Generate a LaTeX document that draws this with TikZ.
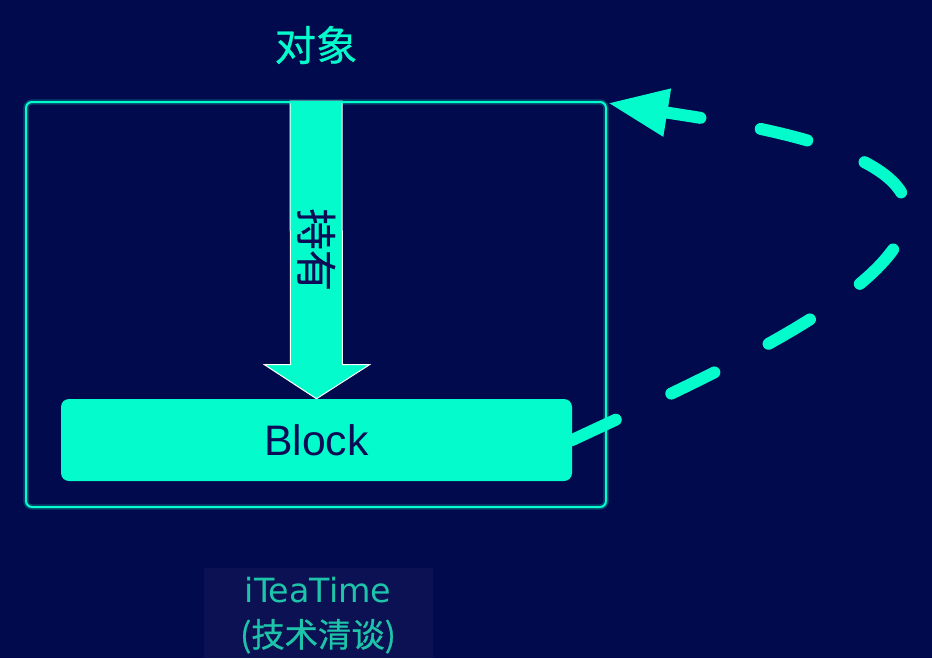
\documentclass[tikz,border=0pt]{standalone}
\usepackage{fontspec}
\setmainfont{Liberation Sans}
\newfontfamily\cjk[FakeBold=0.6]{Noto Sans CJK SC}
\newfontfamily\wmfont{DejaVu Sans}
\usepackage{tikz}
\usetikzlibrary{positioning,calc,arrows.meta}
\definecolor{navy}{HTML}{020A4E}
\definecolor{mint}{HTML}{04FBCC}
\definecolor{ink}{HTML}{0B0C55}
\definecolor{wmfill}{HTML}{0B1152}
\definecolor{wmtext}{HTML}{1EC4AA}
\pgfdeclarelayer{bg}
\pgfdeclarelayer{back}
\pgfsetlayers{bg,back,main}
\tikzset{
	objbox/.style = {draw=mint, line width=1.5pt, rounded corners=4.5pt, minimum width=435pt, minimum height=303.75pt, inner sep=0, preaction={draw=mint, line width=4pt, opacity=0.25}},
	blockbox/.style = {fill=mint, rounded corners=6pt, minimum width=383.25pt, minimum height=61.5pt, inner sep=0, text=ink, font=\fontsize{32pt}{36pt}\selectfont},
	objlabel/.style = {text=mint, inner sep=0, font=\cjk\fontsize{31pt}{34pt}\selectfont},
	holdarrow/.style = {fill=mint, draw=white, line width=0.75pt, line join=miter},
	holdlabel/.style = {text=ink, inner sep=0, rotate=-90, font=\cjk\fontsize{31pt}{34pt}\selectfont},
	backref/.style = {draw=mint, line width=9pt, line cap=round, dash pattern=on 36pt off 46pt, -{Triangle[length=45pt, width=34pt]}},
	wmbox/.style = {fill=wmfill, minimum width=171.75pt, minimum height=67.5pt, inner sep=0},
	wmlabel/.style = {text=wmtext, inner sep=0, anchor=base, font=\wmfont\fontsize{25pt}{30pt}\selectfont}
}
\begin{document}
\begin{tikzpicture}[x=0.75pt, y=-0.75pt]
	\begin{pgfonlayer}{bg}
		\fill[navy] (0,0) rectangle (932,658);
	\end{pgfonlayer}
	\useasboundingbox (0,0) rectangle (932,658);
	
	\node [objbox] (obj) at (316,304.5) {};
	\node [objlabel] (objname) at (316,45) {对象};
	\node [blockbox] (blk) at (316.5,440) {Block};
	\coordinate (tip) at ($(obj.north east)+(1,2)$);
	
	\begin{pgfonlayer}{back}
		\draw [holdarrow] ($(obj.north)+(-26,0)$) -- ($(blk.north)+(-26,-34)$) -- ($(blk.north)+(-52,-34)$) -- (blk.north) -- ($(blk.north)+(53,-34)$) -- ($(blk.north)+(26,-34)$) -- ($(obj.north)+(26,0)$) -- cycle;
		\draw [backref] (blk.east) .. controls (700,380) and (908,290) .. (907,212) .. controls (906,145) and (725,122) .. (tip);
	\end{pgfonlayer}
	\node [holdlabel] (hold) at ($(obj.north)!0.5!(blk.north)$) {持有};
	
	\node [wmbox] (wm) at (318.5,613) {};
	\node [wmlabel] (wmname) at (318,602) {iTeaTime};
	\node [wmlabel, font=\cjk\fontsize{25pt}{30pt}\selectfont] (wmsub) at (318,647) {(技术清谈)};
\end{tikzpicture}
\end{document}
